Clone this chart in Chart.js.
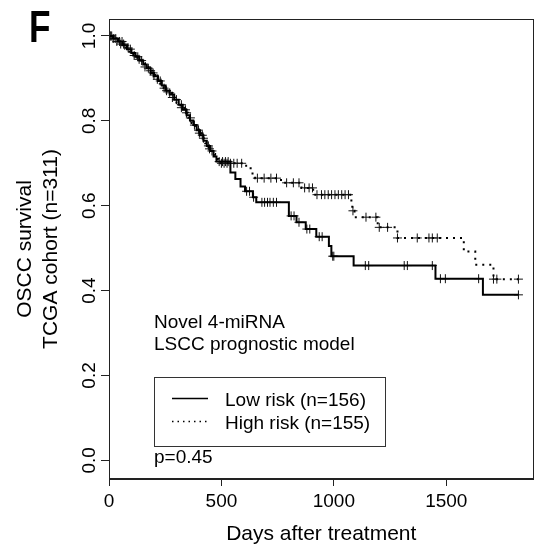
<!DOCTYPE html>
<html>
<head>
<meta charset="utf-8">
<script src="https://cdn.jsdelivr.net/npm/chart.js@4.4.0/dist/chart.umd.min.js"></script>
<style>
  html, body { margin: 0; padding: 0; background: #fff; }
  #wrap { width: 539px; height: 547px; }
</style>
</head>
<body>
<div id="wrap"><canvas id="km" width="539" height="547"></canvas></div>
<script>
// Low risk (solid line): step times in days and survival after each step
const low_times = [0, 18, 40, 60, 80, 100, 118, 135, 152, 168, 185, 200, 218, 235, 252, 270, 290, 310, 328, 345,
    360, 375, 390, 405, 420, 435, 450, 465, 478, 540, 562, 585, 605, 640, 655, 800, 834, 875, 922, 978,
    989, 1088, 1452, 1663, 1821];
const low_surv = [1.000, 0.994, 0.987, 0.978, 0.969, 0.960, 0.951, 0.942, 0.933, 0.924, 0.913, 0.905, 0.894, 0.883, 0.871, 0.862, 0.850, 0.838, 0.826, 0.813,
    0.801, 0.790, 0.778, 0.766, 0.753, 0.741, 0.729, 0.716, 0.704, 0.678, 0.663, 0.645, 0.634, 0.620, 0.608, 0.576, 0.561, 0.545, 0.527, 0.505,
    0.481, 0.459, 0.428, 0.390, 0.390];
const low_censor = [5, 12, 22, 30, 47, 58, 70, 95, 128, 145, 175, 196, 228, 256, 300, 322, 340, 380, 398, 415, 442, 458, 490, 505, 518, 530,
    612, 625, 643, 680, 692, 705, 716, 731, 745, 810, 823, 845, 880, 893, 935, 948, 995, 1000,
    1140, 1155, 1313, 1327, 1438, 1474, 1496, 1644, 1821];

// High risk (dotted line)
const high_times = [0, 10, 28, 50, 70, 90, 108, 126, 144, 160, 176, 193, 210, 226, 243, 260, 280, 300, 318, 336,
    352, 367, 382, 398, 412, 428, 443, 458, 472, 488, 610, 630, 650, 765, 856, 908, 1078, 1082, 1092, 1195,
    1283, 1578, 1629, 1710, 1821];
const high_surv = [1.000, 0.994, 0.987, 0.981, 0.972, 0.963, 0.954, 0.945, 0.936, 0.927, 0.918, 0.908, 0.898, 0.888, 0.877, 0.866, 0.855, 0.843, 0.831, 0.819,
    0.807, 0.795, 0.784, 0.771, 0.759, 0.747, 0.734, 0.722, 0.710, 0.700, 0.688, 0.676, 0.665, 0.654, 0.642, 0.626, 0.605, 0.588, 0.573, 0.549,
    0.524, 0.492, 0.461, 0.427, 0.427];
const high_censor = [3, 8, 18, 35, 52, 65, 85, 112, 134, 160, 185, 200, 215, 245, 270, 282, 322, 345, 362, 402, 420, 447, 500, 512, 525, 540, 555, 570, 590,
    660, 690, 720, 745, 790, 820, 845, 870, 890, 905, 925, 945, 960, 975, 990, 1005, 1020, 1035, 1050, 1065,
    1085, 1143, 1187, 1202, 1239, 1283, 1371, 1423, 1438, 1460, 1710, 1725, 1821];

const x_ticks = [0, 500, 1000, 1500];
const y_ticks = [0.0, 0.2, 0.4, 0.6, 0.8, 1.0];

const FONT = '"Liberation Sans", Arial, sans-serif';
Chart.defaults.font.family = FONT;

function surv_at(times, surv, t) {
    let s = surv[0];
    for (let i = 0; i < times.length; i++) {
        if (times[i] <= t) s = surv[i];
    }
    return s;
}

function to_points(times, surv) {
    return times.map((t, i) => ({x: t, y: surv[i]}));
}

function censor_points(cens, times, surv) {
    return cens.map(t => ({x: t, y: surv_at(times, surv, t)}));
}

const paper = {
    id: 'paper',
    afterDraw(chart) {
        const ctx = chart.ctx;
        const a = chart.chartArea;
        const xs = chart.scales.x, ys = chart.scales.y;
        ctx.save();
        ctx.strokeStyle = '#222';
        ctx.lineWidth = 1;
        ctx.setLineDash([]);
        let l = Math.round(a.left) + 0.5, t = Math.round(a.top) + 0.5;
        let r = Math.round(a.right) - 0.5, b = Math.round(a.bottom) - 0.5;
        ctx.strokeRect(l, t, r - l, b - t);

        ctx.fillStyle = '#000';
        // x tick labels
        ctx.font = '19px ' + FONT;
        ctx.textAlign = 'center';
        ctx.textBaseline = 'middle';
        x_ticks.forEach(v => ctx.fillText(String(v), xs.getPixelForValue(v), 502));
        // y tick labels, rotated
        y_ticks.forEach(v => {
            ctx.save();
            ctx.translate(90, ys.getPixelForValue(v));
            ctx.rotate(-Math.PI / 2);
            ctx.fillText(v.toFixed(1), 0, 0);
            ctx.restore();
        });
        // axis titles
        ctx.font = '21px ' + FONT;
        ctx.fillText('Days after treatment', (a.left + a.right) / 2, 534);
        const mid = (a.top + a.bottom) / 2;
        [['OSCC survival', 25], ['TCGA cohort (n=311)', 51]].forEach(([txt, xx]) => {
            ctx.save();
            ctx.translate(xx, mid);
            ctx.rotate(-Math.PI / 2);
            ctx.fillText(txt, 0, 0);
            ctx.restore();
        });

        // panel letter
        ctx.save();
        ctx.font = 'bold 44px ' + FONT;
        ctx.textAlign = 'left';
        ctx.textBaseline = 'alphabetic';
        ctx.translate(29, 42);
        ctx.scale(0.8, 1);
        ctx.fillText('F', 0, 0);
        ctx.restore();

        // annotation
        ctx.font = '19px ' + FONT;
        ctx.textAlign = 'left';
        ctx.textBaseline = 'alphabetic';
        ctx.fillText('Novel 4-miRNA', 154, 328);
        ctx.fillText('LSCC prognostic model', 154, 350);

        // legend box
        ctx.strokeStyle = '#333';
        ctx.strokeRect(154.5, 377.5, 231, 69);
        ctx.strokeStyle = '#000';
        ctx.lineWidth = 1.5;
        ctx.beginPath();
        ctx.moveTo(172, 398.5); ctx.lineTo(208, 398.5);
        ctx.stroke();
        ctx.setLineDash([1.5, 4]);
        ctx.beginPath();
        ctx.moveTo(172, 421.5); ctx.lineTo(208, 421.5);
        ctx.stroke();
        ctx.setLineDash([]);
        ctx.fillText('Low risk (n=156)', 225, 406);
        ctx.fillText('High risk (n=155)', 225, 429);
        ctx.fillText('p=0.45', 154, 463);
        ctx.restore();
    }
};

const ctx = document.getElementById('km').getContext('2d');
new Chart(ctx, {
    type: 'line',
    data: {
        datasets: [
            {
                label: 'Low risk (n=156)',
                data: to_points(low_times, low_surv),
                stepped: true,
                borderColor: '#000',
                borderWidth: 2,
                pointRadius: 0
            },
            {
                label: 'High risk (n=155)',
                data: to_points(high_times, high_surv),
                stepped: true,
                borderColor: '#000',
                borderWidth: 2,
                borderDash: [2, 5],
                pointRadius: 0
            },
            {
                label: 'low censored',
                data: censor_points(low_censor, low_times, low_surv),
                showLine: false,
                pointStyle: 'cross',
                pointRadius: 4.5,
                pointBorderWidth: 1,
                pointBorderColor: '#111'
            },
            {
                label: 'high censored',
                data: censor_points(high_censor, high_times, high_surv),
                showLine: false,
                pointStyle: 'cross',
                pointRadius: 4.5,
                pointBorderWidth: 1,
                pointBorderColor: '#111'
            }
        ]
    },
    options: {
        responsive: false,
        animation: false,
        devicePixelRatio: 1,
        layout: {padding: {left: 0, right: 2, top: 19, bottom: 0}},
        plugins: {legend: {display: false}, tooltip: {enabled: false}},
        scales: {
            x: {
                type: 'linear',
                min: 0,
                max: 1888,
                afterBuildTicks: s => { s.ticks = x_ticks.map(v => ({value: v})); },
                afterFit: s => { s.height = 68; },
                grid: {drawOnChartArea: false, drawTicks: true, tickLength: 7, color: '#222'},
                border: {display: true, color: '#222'},
                ticks: {color: 'rgba(0,0,0,0)', font: {size: 19}}
            },
            y: {
                type: 'linear',
                min: -0.044,
                max: 1.04,
                afterBuildTicks: s => { s.ticks = y_ticks.map(v => ({value: v})); },
                afterFit: s => { s.width = 109; },
                grid: {drawOnChartArea: false, drawTicks: true, tickLength: 8, color: '#222'},
                border: {display: true, color: '#222'},
                ticks: {color: 'rgba(0,0,0,0)', font: {size: 19}}
            }
        }
    },
    plugins: [paper]
});
</script>
</body>
</html>
